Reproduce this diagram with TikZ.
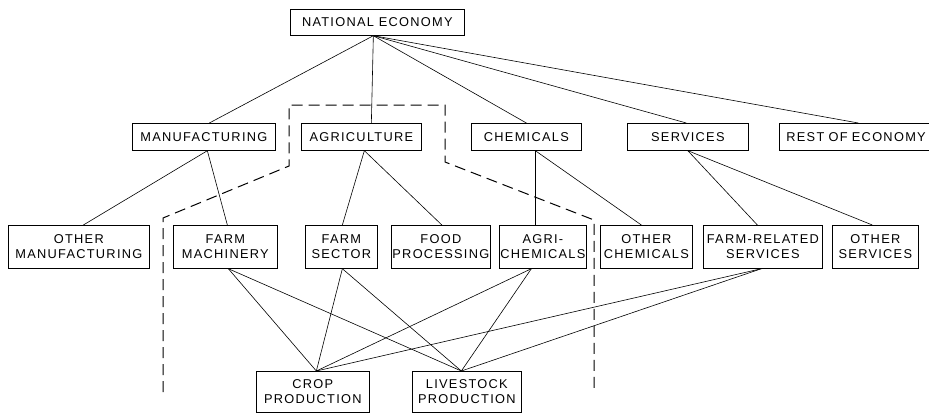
\documentclass[tikz,border=0pt]{standalone}
\usepackage{fontspec}
\setmainfont[LetterSpace=10]{Liberation Sans}
\begin{document}
\begin{tikzpicture}[x=1pt,y=-1pt,
  box/.style={draw, line width=0.7pt, inner sep=0pt, align=center, anchor=north west,
    font=\fontsize{12.8}{15}\selectfont},
  link/.style={line width=0.6pt},
  fence/.style={draw=black, line width=1pt, dash pattern=on 11pt off 6pt}]
\useasboundingbox (0,0) rectangle (929,413);
% top
\node[box, minimum width=174pt, minimum height=26pt] (ne) at (290,9) {NATIONAL ECONOMY};
% row 1
\node[box, minimum width=143pt, minimum height=27pt] (man) at (132,123) {MANUFACTURING};
\node[box, minimum width=120pt, minimum height=27pt] (agr) at (301,123) {AGRICULTURE};
\node[box, minimum width=110pt, minimum height=27pt] (chem) at (471,123) {CHEMICALS};
\node[box, minimum width=121pt, minimum height=27pt] (serv) at (627,123) {SERVICES};
\node[box, minimum width=153pt, minimum height=27pt, align=left, text width=147pt] (rest) at (779,123) {\hspace*{4pt}REST OF ECONOMY};
% row 2
\node[box, minimum width=141pt, minimum height=43pt] (om) at (8,225) {OTHER\\MANUFACTURING};
\node[box, minimum width=104pt, minimum height=43pt] (fm) at (173,225) {FARM\\MACHINERY};
\node[box, minimum width=72pt, minimum height=43pt] (fs) at (305,225) {FARM\\SECTOR};
\node[box, minimum width=99pt, minimum height=43pt] (fp) at (391,225) {FOOD\\PROCESSING};
\node[box, minimum width=87pt, minimum height=43pt] (ac) at (499,225) {AGRI-\\CHEMICALS};
\node[box, minimum width=92pt, minimum height=43pt] (oc) at (600,225) {OTHER\\CHEMICALS};
\node[box, minimum width=119pt, minimum height=43pt] (fr) at (703,225) {FARM-RELATED\\SERVICES};
\node[box, minimum width=86pt, minimum height=43pt] (os) at (832,225) {OTHER\\SERVICES};
% row 3
\node[box, minimum width=113pt, minimum height=41pt] (cp) at (256,371) {CROP\\PRODUCTION};
\node[box, minimum width=109pt, minimum height=41pt] (lp) at (412,371) {LIVESTOCK\\PRODUCTION};
% connectors from national economy
\draw[link] ([xshift=-4pt]ne.south) -- ([xshift=5.5pt]man.north);
\draw[link] ([xshift=-4pt]ne.south) -- ([xshift=10pt]agr.north);
\draw[link] ([xshift=-4pt]ne.south) -- (chem.north);
\draw[link] ([xshift=-4pt]ne.south) -- ([xshift=-1.5pt]serv.north);
\draw[link] ([xshift=-4pt]ne.south) -- ([xshift=2.5pt]rest.north);
% row 1 to row 2
\draw[link] ([xshift=3.5pt]man.south) -- ([xshift=4.5pt]om.north);
\draw[link] ([xshift=3.5pt]man.south) -- ([xshift=2pt]fm.north);
\draw[link] ([xshift=3pt]agr.south) -- ([xshift=1pt]fs.north);
\draw[link] ([xshift=3pt]agr.south) -- ([xshift=1pt]fp.north);
\draw[link] ([xshift=9pt]chem.south) -- ([xshift=-7.5pt]ac.north);
\draw[link] ([xshift=9pt]chem.south) -- ([xshift=-5pt]oc.north);
\draw[link] (serv.south) -- ([xshift=-5.5pt]fr.north);
\draw[link] (serv.south) -- ([xshift=-3pt]os.north);
% row 2 to row 3
\foreach \src/\dx in {fm/3pt, fs/1pt, ac/-11.5pt, fr/-1.5pt}{
  \draw[link] ([xshift=\dx]\src.south) -- ([xshift=3.5pt]cp.north);
  \draw[link] ([xshift=\dx]\src.south) -- ([xshift=-5.5pt]lp.north);
}
% dashed boundary
\draw[fence] (163,392) -- (163,218) -- (289,166) -- (289,105) -- (445,105)
  -- (445,162) -- (594,220) -- (594,391);
\end{tikzpicture}
\end{document}
